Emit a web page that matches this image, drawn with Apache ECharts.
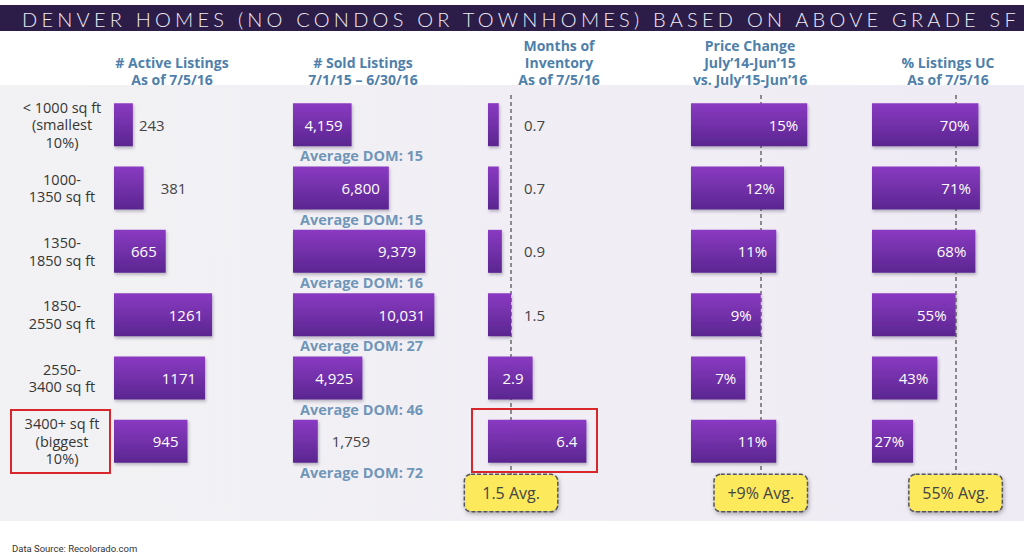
<!DOCTYPE html>
<html><head><meta charset="utf-8">
<script src="https://cdn.jsdelivr.net/npm/echarts@6/dist/echarts.min.js"></script>
<style>html,body{margin:0;padding:0;background:#fff}#c{width:1024px;height:552px}</style>
</head><body><div id="c"></div>
<script>
// ---- data ----
const TITLE = 'DENVER HOMES (NO CONDOS OR TOWNHOMES) BASED ON ABOVE GRADE SF';
const categories = ['< 1000 sq ft\n(smallest\n10%)', '1000-\n1350 sq ft', '1350-\n1850 sq ft', '1850-\n2550 sq ft', '2550-\n3400 sq ft', '3400+ sq ft\n(biggest\n10%)'];
const headers = ['# Active Listings\nAs of 7/5/16', '# Sold Listings\n7/1/15 \u2013 6/30/16', 'Months of\nInventory\nAs of 7/5/16', 'Price Change\nJuly\u201914-Jun\u201915\nvs. July\u201915-Jun\u201916', '% Listings UC\nAs of 7/5/16'];
const activeListings = [243, 381, 665, 1261, 1171, 945];
const soldListings = [4159, 6800, 9379, 10031, 4925, 1759];
const avgDOM = [15, 15, 16, 27, 46, 72];
const monthsInventory = [0.7, 0.7, 0.9, 1.5, 2.9, 6.4];
const priceChange = [15, 12, 11, 9, 7, 11];
const pctUC = [70, 71, 68, 55, 43, 27];
const avgMonths = 1.5;
const avgPriceChange = 9;
const avgUC = 55;
const SOURCE = 'Data Source: Recolorado.com';

// ---- layout / style ----
const FONT = '"Open Sans", "DejaVu Sans", sans-serif';
const GRID_TOP = 93, GRID_H = 380;
const cols = [
  {left: 114, width: 140, max: 1800, values: activeListings, fmt: v => String(v)},
  {left: 293, width: 155, max: 11000, values: soldListings, fmt: v => v.toLocaleString('en-US')},
  {left: 488, width: 123, max: 8, values: monthsInventory, fmt: v => v.toFixed(1)},
  {left: 691, width: 155, max: 20, values: priceChange, fmt: v => v + '%'},
  {left: 872, width: 152, max: 100, values: pctUC, fmt: v => v + '%'}
];
const headerX = [172, 363, 559, 750, 948];
const avgs = [null, null, {v: avgMonths, t: avgMonths + ' Avg.'}, {v: avgPriceChange, t: '+' + avgPriceChange + '% Avg.'}, {v: avgUC, t: avgUC + '% Avg.'}];

function labelFor(k, i, v) {
  const inside = {position: 'insideRight', distance: 9, color: '#fff'};
  if (k === 0 && v < 500) return {position: 'right', distance: [6, 17][i], color: '#444'};
  if (k === 1 && v < 3000) return {position: 'right', distance: 14, color: '#444'};
  if (k === 2 && v < 2) return {position: [36, '50%'], align: 'left', verticalAlign: 'middle', color: '#444'};
  return inside;
}

const barColor = new echarts.graphic.LinearGradient(0, 0, 0, 1, [
  {offset: 0, color: '#8a3ac2'}, {offset: 1, color: '#5a2690'}
]);

const grid = [], xAxis = [], yAxis = [], series = [];
cols.forEach((c, k) => {
  grid.push({left: c.left, top: GRID_TOP, width: c.width, height: GRID_H});
  xAxis.push({type: 'value', gridIndex: k, min: 0, max: c.max, show: false});
  yAxis.push({
    type: 'category', gridIndex: k, data: categories, inverse: true,
    axisLine: {show: false}, axisTick: {show: false}, splitLine: {show: false},
    axisLabel: k === 0 ? {show: true, align: 'center', margin: 52, fontFamily: FONT, fontSize: 14.5, lineHeight: 17.5, color: '#363636'} : {show: false}
  });
  if (avgs[k]) {
    // average reference line, drawn beneath the bars
    series.push({
      type: 'line', xAxisIndex: k, yAxisIndex: k, data: [], z: 1, animation: false,
      markLine: {
        silent: true, symbol: ['none', 'none'], z: 1, animation: false,
        lineStyle: {type: [4, 3], color: '#6a6a6a', width: 1.5},
        label: {
          show: true, position: 'end', distance: 0, formatter: avgs[k].t,
          fontFamily: FONT, fontSize: 16, color: '#444',
          backgroundColor: '#fce95c', borderColor: '#555', borderWidth: 1.5, borderType: [4, 2],
          borderRadius: 6, padding: [0, 10], width: 72, height: 36, lineHeight: 36, align: 'center',
          shadowBlur: 4, shadowOffsetX: 1, shadowOffsetY: 2, shadowColor: 'rgba(0,0,0,0.3)'
        },
        data: [[{xAxis: avgs[k].v, y: 95}, {xAxis: avgs[k].v, y: 475}]]
      }
    });
  }
  series.push({
    type: 'bar', xAxisIndex: k, yAxisIndex: k, barWidth: 43, z: 10,
    data: c.values.map((v, i) => ({value: v, label: labelFor(k, i, v)})),
    itemStyle: {color: barColor, shadowBlur: 3, shadowOffsetX: 1, shadowOffsetY: 2, shadowColor: 'rgba(40,20,60,0.3)'},
    label: {show: true, fontFamily: FONT, fontSize: 15, formatter: p => c.fmt(p.value)},
    animation: false
  });
});

// Average DOM labels under the sold-listing bars
series.push({
  type: 'scatter', xAxisIndex: 1, yAxisIndex: 1, symbolSize: 2, z: 11,
  itemStyle: {color: 'rgba(0,0,0,0)'},
  data: avgDOM.map((d, i) => [0, i]),
  label: {
    show: true, position: [8, 32], align: 'left', verticalAlign: 'middle',
    fontFamily: FONT, fontWeight: 'bold', fontSize: 14.5, color: '#4d7da8',
    formatter: p => 'Average DOM: ' + avgDOM[p.dataIndex]
  },
  animation: false
});

const TITLE_FONT = '300 20px Lato';
const graphic = [
  {type: 'rect', z: -10, silent: true, shape: {x: 0, y: 85, width: 1024, height: 436},
   style: {fill: new echarts.graphic.LinearGradient(0, 0, 1, 0, [{offset: 0, color: '#f2f2f4'}, {offset: 1, color: '#efebf5'}])}},
  {type: 'rect', z: -10, silent: true, shape: {x: 0, y: 5, width: 1024, height: 26}, style: {fill: '#2c1c48'}},
  {type: 'text', z: 10, silent: true, x: 22, y: 18.5,
   style: {text: TITLE, font: TITLE_FONT, fill: '#f0ecf5', align: 'left', verticalAlign: 'middle', textAlign: 'left', textVerticalAlign: 'middle'}},
  {type: 'rect', z: 10, silent: true, shape: {x: 11, y: 410, width: 99, height: 63}, style: {fill: 'none', stroke: '#d9262b', lineWidth: 2}},
  {type: 'rect', z: 10, silent: true, shape: {x: 472, y: 409, width: 125, height: 63}, style: {fill: 'none', stroke: '#d9262b', lineWidth: 2}},
  {type: 'text', z: 10, silent: true, x: 12, y: 548,
   style: {text: SOURCE, font: '9.5px Roboto', fill: '#333', align: 'left', verticalAlign: 'middle', textAlign: 'left', textVerticalAlign: 'middle'}}
];
headers.forEach((h, k) => {
  graphic.push({type: 'text', z: 10, silent: true, x: headerX[k], y: 87.5,
    style: {text: h, font: 'bold 14px ' + FONT, fill: '#4f7fab', lineHeight: 17,
      align: 'center', verticalAlign: 'bottom', textAlign: 'center', textVerticalAlign: 'bottom'}});
});

const chart = echarts.init(document.getElementById('c'), null, {renderer: 'svg', width: 1024, height: 552});
chart.setOption({animation: false, backgroundColor: '#fff', grid, xAxis, yAxis, series, graphic});

function spaceTitle() {
  const ctx = document.createElement('canvas').getContext('2d');
  ctx.font = TITLE_FONT;
  const w = ctx.measureText(TITLE).width;
  const ls = (995 - w) / (TITLE.length - 1);
  chart.getDom().querySelectorAll('text').forEach(t => {
    if (t.textContent === TITLE) { t.setAttribute('letter-spacing', ls); t.style.letterSpacing = ls + 'px'; }
  });
}
spaceTitle();
chart.on('finished', spaceTitle);
</script></body></html>
